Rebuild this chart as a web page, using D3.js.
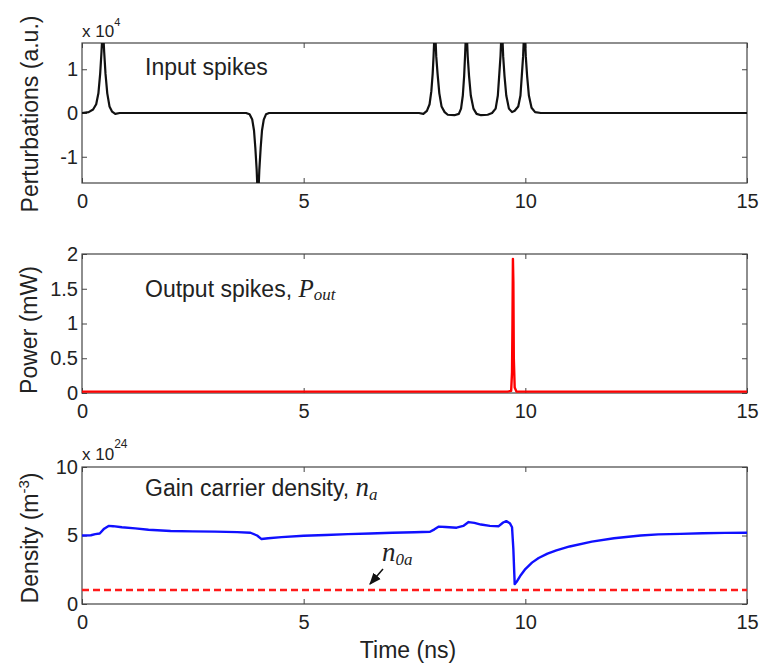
<!DOCTYPE html>
<html>
<head>
<meta charset="utf-8">
<script src="https://cdn.jsdelivr.net/npm/d3@7"></script>
<style>
    body { margin: 0; background: #fff; }
    svg { display: block; font-family: "Liberation Sans", Arial, sans-serif; }
    .tick text { font-size: 20px; fill: #222; }
    .tick line { stroke: #444; }
    .frame { fill: none; stroke: #444; stroke-width: 1.2; }
    .label { font-size: 23px; fill: #222; }
    .math { font-family: "Liberation Serif", "Times New Roman", serif; font-style: italic; }
</style>
</head>
<body>
<svg width="760" height="669"></svg>
<script>

//  Time axis, shared by the three panels (ns)
const timeDomain = [0, 15];
const timeTicks = [0, 5, 10, 15];

//  Input perturbations, in units of 1e4 (a.u.)
const inputTime = [0, 0.15, 0.25, 0.32, 0.37, 0.41, 0.44, 0.46, 0.48, 0.50, 0.53, 0.57, 0.62, 0.68, 0.75, 0.85,
    3.70, 3.78, 3.84, 3.88, 3.91, 3.94, 3.96, 3.98, 4.00, 4.03, 4.06, 4.10, 4.15, 4.22,
    7.60, 7.70, 7.78, 7.84, 7.88, 7.91, 7.93, 7.95, 7.97, 7.99, 8.02, 8.06, 8.11, 8.18, 8.25, 8.40, 8.50,
    8.55, 8.59, 8.62, 8.64, 8.66, 8.68, 8.70, 8.73, 8.77, 8.83, 8.90, 9.00, 9.15, 9.25,
    9.33, 9.38, 9.41, 9.44, 9.46, 9.48, 9.50, 9.53, 9.57, 9.63, 9.70, 9.76,
    9.84, 9.89, 9.92, 9.95, 9.97, 9.99, 10.01, 10.04, 10.08, 10.14, 10.22, 10.35, 15];
const inputValue = [0, 0.02, 0.08, 0.2, 0.45, 0.9, 1.4, 1.8, 1.8, 1.4, 0.9, 0.45, 0.15, 0.03, -0.02, 0,
    0, -0.03, -0.15, -0.4, -0.8, -1.3, -1.8, -1.8, -1.3, -0.8, -0.4, -0.15, -0.03, 0,
    0, -0.02, 0.05, 0.2, 0.5, 0.9, 1.3, 1.8, 1.8, 1.3, 0.9, 0.45, 0.15, 0.02, -0.04, -0.05, -0.02,
    0.1, 0.4, 0.85, 1.3, 1.8, 1.8, 1.3, 0.85, 0.4, 0.1, -0.02, -0.05, -0.04, 0,
    0.1, 0.4, 0.85, 1.3, 1.8, 1.8, 1.3, 0.85, 0.4, 0.1, 0.02, 0.05,
    0.15, 0.4, 0.85, 1.3, 1.8, 1.8, 1.3, 0.85, 0.4, 0.12, 0.02, 0, 0];
const inputTicks = [-1, 0, 1];

//  Output power (mW)
const powerTime = [0, 9.60, 9.68, 9.70, 9.71, 9.72, 9.73, 9.74, 9.76, 9.80, 15];
const powerValue = [0.02, 0.02, 0.03, 0.3, 1.0, 1.93, 1.6, 0.5, 0.08, 0.02, 0.02];
const powerTicks = [0, 0.5, 1, 1.5, 2];

//  Gain carrier density, in units of 1e24 m^-3
const densityTime = [0, 0.2, 0.3, 0.4, 0.5, 0.6, 0.7, 0.9, 1.2, 1.5, 2.0, 2.5, 3.0, 3.5, 3.8, 3.95, 4.05, 4.2, 4.5,
    5.0, 5.5, 6.0, 6.5, 7.0, 7.5, 7.85, 7.95, 8.05, 8.2, 8.45, 8.6, 8.72, 8.85, 9.0, 9.2, 9.4, 9.5, 9.57,
    9.65, 9.7, 9.73, 9.76, 9.8, 9.9, 10.0, 10.15, 10.3, 10.5, 10.7, 11.0, 11.5, 12.0, 12.6, 13.0, 13.5, 14.0, 14.5, 15];
const densityValue = [5.0, 5.02, 5.1, 5.15, 5.5, 5.7, 5.68, 5.6, 5.52, 5.42, 5.33, 5.3, 5.28, 5.25, 5.2, 5.0, 4.74, 4.8, 4.88,
    4.98, 5.04, 5.1, 5.15, 5.2, 5.24, 5.27, 5.45, 5.65, 5.62, 5.57, 5.7, 5.98, 5.92, 5.8, 5.7, 5.68, 5.95, 6.05,
    5.9, 5.6, 4.0, 1.45, 1.6, 2.12, 2.55, 3.02, 3.36, 3.68, 3.92, 4.2, 4.55, 4.8, 5.0, 5.08, 5.12, 5.16, 5.19, 5.2];
const thresholdDensity = 1.02;
const densityTicks = [0, 5, 10];


//======================================
//  Properties
//======================================
const svg = d3.select('svg');
const plotLeft = 82;
const plotRight = 747;

const panels = [
    { top: 43, bottom: 183, domain: [-1.6, 1.6], ticks: inputTicks },
    { top: 254, bottom: 393, domain: [0, 2], ticks: powerTicks },
    { top: 467, bottom: 604, domain: [0, 10], ticks: densityTicks }
];

const xScale = d3.scaleLinear()
    .domain(timeDomain)
    .range([plotLeft, plotRight]);


//======================================
//  Frames and axes (Matlab-like, ticks pointing inside)
//======================================
panels.forEach((p, i) => {
    p.yScale = d3.scaleLinear().domain(p.domain).range([p.bottom, p.top]);
    const g = svg.append('g').attr('class', 'panel');

    g.append('defs').append('clipPath')
        .attr('id', `clip${i}`)
        .append('rect')
        .attr('x', plotLeft)
        .attr('y', p.top)
        .attr('width', plotRight - plotLeft)
        .attr('height', p.bottom - p.top);
    p.clip = `url(#clip${i})`;

    g.append('g')
        .attr('transform', `translate(0, ${p.bottom})`)
        .call(d3.axisBottom(xScale).tickValues(timeTicks).tickSizeInner(-5).tickSizeOuter(0).tickPadding(11))
        .call(a => a.select('.domain').remove());

    g.append('g')
        .attr('transform', `translate(0, ${p.top})`)
        .call(d3.axisTop(xScale).tickValues(timeTicks).tickSizeInner(-5).tickSizeOuter(0).tickFormat(''))
        .call(a => a.select('.domain').remove());

    g.append('g')
        .attr('transform', `translate(${plotLeft}, 0)`)
        .call(d3.axisLeft(p.yScale).tickValues(p.ticks).tickFormat(d => d).tickSizeInner(-5).tickSizeOuter(0).tickPadding(4))
        .call(a => a.select('.domain').remove());

    g.append('g')
        .attr('transform', `translate(${plotRight}, 0)`)
        .call(d3.axisRight(p.yScale).tickValues(p.ticks).tickSizeInner(-5).tickSizeOuter(0).tickFormat(''))
        .call(a => a.select('.domain').remove());

    g.append('rect')
        .attr('class', 'frame')
        .attr('x', plotLeft)
        .attr('y', p.top)
        .attr('width', plotRight - plotLeft)
        .attr('height', p.bottom - p.top);
});

svg.selectAll('.tick text').attr('fill', '#222');


//======================================
//  Curves
//======================================
function drawCurve(panel, times, values, color, width) {
    const line = d3.line()
        .x(d => xScale(d[0]))
        .y(d => panel.yScale(d[1]));
    return svg.append('path')
        .datum(d3.zip(times, values))
        .attr('clip-path', panel.clip)
        .attr('fill', 'none')
        .attr('stroke', color)
        .attr('stroke-width', width)
        .attr('stroke-linejoin', 'round')
        .attr('d', line);
}

drawCurve(panels[0], inputTime, inputValue, '#111', 2.2);
drawCurve(panels[1], powerTime, powerValue, '#ff0000', 2.4);
drawCurve(panels[2], timeDomain, [thresholdDensity, thresholdDensity], '#ff1a1a', 2.4)
    .attr('stroke-dasharray', '7,4');
drawCurve(panels[2], densityTime, densityValue, '#1010ff', 2.4);


//======================================
//  Texts
//======================================
//  Multipliers
const mult1 = svg.append('text').attr('x', 82).attr('y', 37).style('font-size', '17px').attr('fill', '#222');
mult1.append('tspan').text('x 10');
mult1.append('tspan').attr('dy', -11).style('font-size', '11px').text('4');

const mult3 = svg.append('text').attr('x', 82).attr('y', 460).style('font-size', '17px').attr('fill', '#222');
mult3.append('tspan').text('x 10');
mult3.append('tspan').attr('dy', -12).style('font-size', '12px').text('24');

//  Panel titles
svg.append('text').attr('class', 'label').attr('x', 145).attr('y', 75).text('Input spikes');

const t2 = svg.append('text').attr('class', 'label').attr('x', 145).attr('y', 297);
t2.append('tspan').text('Output spikes, ');
t2.append('tspan').attr('class', 'math').style('font-size', '25px').text('P');
t2.append('tspan').attr('class', 'math').attr('dy', 3).style('font-size', '17px').text('out');

const t3 = svg.append('text').attr('class', 'label').attr('x', 145).attr('y', 496);
t3.append('tspan').text('Gain carrier density, ');
t3.append('tspan').attr('class', 'math').style('font-size', '27px').text('n');
t3.append('tspan').attr('class', 'math').attr('dy', 4).style('font-size', '17px').text('a');

//  Threshold label and arrow
const t4 = svg.append('text').attr('x', 382).attr('y', 561).attr('fill', '#222');
t4.append('tspan').attr('class', 'math').style('font-size', '27px').text('n');
t4.append('tspan').attr('class', 'math').attr('dy', 4).style('font-size', '17px').text('0a');

svg.append('defs').append('marker')
    .attr('id', 'arrow')
    .attr('viewBox', '0 0 10 10')
    .attr('refX', 9).attr('refY', 5)
    .attr('markerWidth', 8).attr('markerHeight', 8)
    .attr('orient', 'auto')
    .append('path')
    .attr('d', 'M0,1 L10,5 L0,9 Z')
    .attr('fill', '#111');

svg.append('line')
    .attr('x1', 383).attr('y1', 569)
    .attr('x2', 370).attr('y2', 584)
    .attr('stroke', '#111')
    .attr('stroke-width', 1.5)
    .attr('marker-end', 'url(#arrow)');

//  Y axis labels
function yLabel(cx, cy) {
    return svg.append('text')
        .attr('class', 'label')
        .attr('text-anchor', 'middle')
        .attr('transform', `translate(${cx}, ${cy}) rotate(-90)`);
}
yLabel(38, 114).text('Perturbations (a.u.)');
yLabel(37, 330).text('Power (mW)');
const dl = yLabel(38, 538);
dl.append('tspan').text('Density (m');
dl.append('tspan').attr('dy', -9).style('font-size', '15px').text('-3');
dl.append('tspan').attr('dy', 9).text(')');

//  X axis label
svg.append('text')
    .attr('class', 'label')
    .attr('text-anchor', 'middle')
    .attr('x', 408)
    .attr('y', 658)
    .text('Time (ns)');

</script>
</body>
</html>
